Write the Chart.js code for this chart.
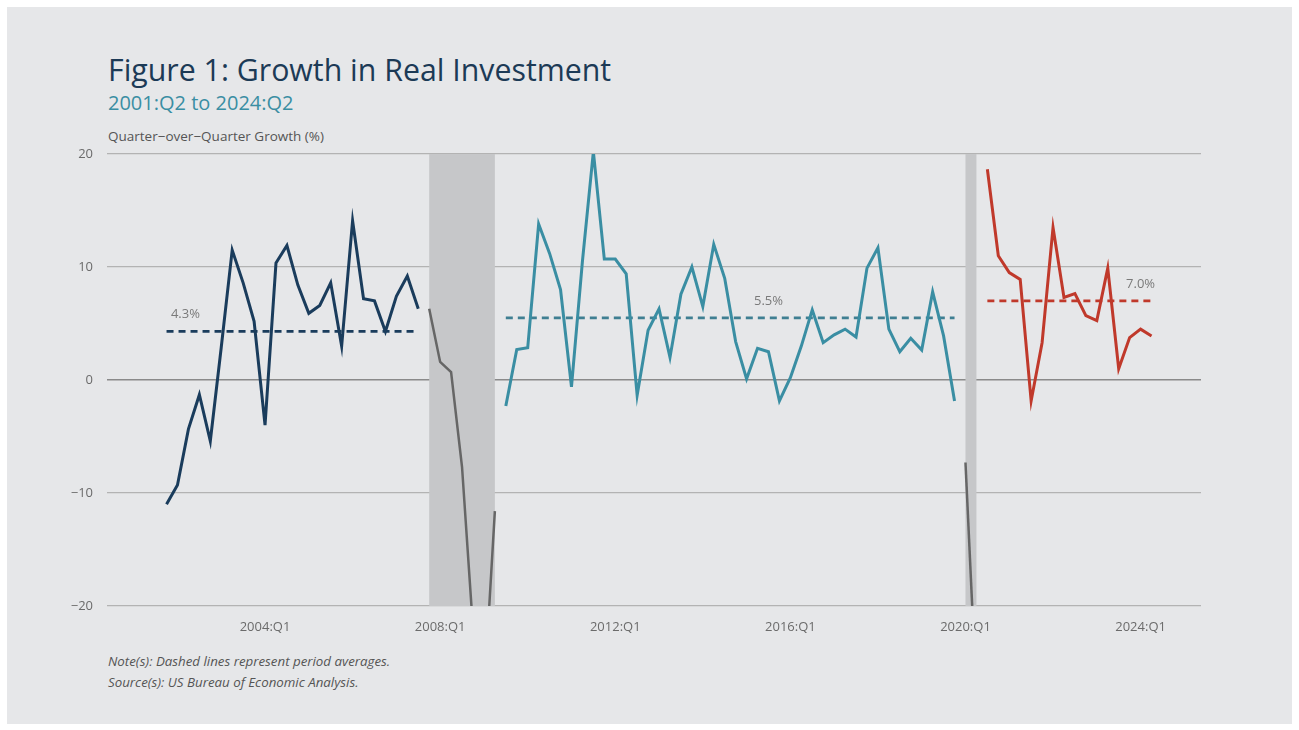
<!DOCTYPE html>
<html>
<head>
<meta charset="utf-8">
<title>Figure 1: Growth in Real Investment</title>
<script src="https://cdn.jsdelivr.net/npm/chart.js@4.4.1/dist/chart.umd.min.js"></script>
<style>
  html, body { margin: 0; padding: 0; background: #ffffff; }
  body { width: 1299px; height: 730px; position: relative; overflow: hidden; font-family: "Open Sans", sans-serif; }
  #panel { position: absolute; left: 7px; top: 7px; width: 1285px; height: 717px; background: #e6e7e9; }
  .txt { position: absolute; left: 108px; white-space: nowrap; line-height: 1; }
  #title { top: 55px; font-size: 30.3px; color: #1c3a56; }
  #subtitle { top: 93px; font-size: 20px; color: #3a8ea3; }
  #ytitle { top: 129.5px; font-size: 13.5px; color: #555555; }
  .note { font-size: 13.3px; font-style: italic; color: #555555; }
  #note1 { top: 655px; }
  #note2 { top: 675.5px; }
  #wrap { position: absolute; left: 0; top: 0; width: 1299px; height: 730px; }
</style>
</head>
<body>
<div id="panel"></div>
<div class="txt" id="title">Figure 1: Growth in Real Investment</div>
<div class="txt" id="subtitle">2001:Q2 to 2024:Q2</div>
<div class="txt" id="ytitle">Quarter−over−Quarter Growth (%)</div>
<div class="txt note" id="note1">Note(s): Dashed lines represent period averages.</div>
<div class="txt note" id="note2">Source(s): US Bureau of Economic Analysis.</div>
<div id="wrap"><canvas id="investChart"></canvas></div>

<script>
// quarter-over-quarter growth of real investment, annualized (%)
const expansion1Start = '2001:Q4';
const expansion1 = [-11.0, -9.3, -4.35, -1.3, -5.4, 2.9, 11.5, 8.6, 5.2, -4.0, 10.35, 11.9,
                    8.4, 5.9, 6.6, 8.6, 3.0, 14.1, 7.2, 7.0, 4.3, 7.4, 9.2, 6.3];

const recession1Start = '2007:Q4';
const recession1 = [6.3, 1.6, 0.7, -7.7, -22.0, -28.0, -11.6];

const expansion2Start = '2009:Q3';
const expansion2 = [-2.3, 2.7, 2.85, 13.8, 11.2, 8.0, -0.6, 10.5, 20.2, 10.7, 10.7, 9.4,
                    -1.35, 4.4, 6.3, 2.0, 7.6, 10.0, 6.5, 12.0, 9.0, 3.4, 0.1, 2.8,
                    2.5, -1.85, 0.2, 3.0, 6.2, 3.3, 4.0, 4.5, 3.8, 9.9, 11.7, 4.5,
                    2.5, 3.7, 2.65, 7.8, 3.9, -1.85];

const recession2Start = '2020:Q1';
const recession2 = [-7.3, -28.0];

const expansion3Start = '2020:Q3';
const expansion3 = [18.65, 11.0, 9.5, 8.9, -1.85, 3.3, 13.5, 7.3, 7.65, 5.7, 5.25, 9.9,
                    1.0, 3.75, 4.5, 3.9];

// period averages
const periodAverages = [4.3, 5.5, 7.0];
const averageLabels = ['4.3%', '5.5%', '7.0%'];

// shaded recessions (first and last quarter)
const recessionBands = [['2007:Q4', '2009:Q2'], ['2020:Q1', '2020:Q2']];

const xTickLabels = ['2004:Q1', '2008:Q1', '2012:Q1', '2016:Q1', '2020:Q1', '2024:Q1'];
const yTickValues = [-20, -10, 0, 10, 20];

const NAVY = '#1a3c5c';
const TEAL = '#3a8ea3';
const RED = '#c0392b';
const GREY = '#666666';

function quarterValue(label) {
  const [y, q] = label.split(':Q');
  return Number(y) + (Number(q) - 1) / 4;
}

function toPoints(start, values) {
  const x0 = quarterValue(start);
  return values.map((v, i) => ({ x: x0 + i / 4, y: v }));
}

function avgLine(start, values, avg) {
  const x0 = quarterValue(start);
  return [{ x: x0, y: avg }, { x: x0 + (values.length - 1) / 4, y: avg }];
}

function series(data, color, width) {
  return { data, borderColor: color, borderWidth: width, pointRadius: 0, tension: 0, clip: 0, fill: false };
}

function dashed(data, color) {
  return { data, borderColor: color, borderWidth: 2.6, borderDash: [7, 5], pointRadius: 0, tension: 0, clip: 0, fill: false };
}

const recessionShading = {
  id: 'recessionShading',
  beforeDatasetsDraw(chart) {
    const { ctx, chartArea, scales } = chart;
    ctx.save();
    ctx.fillStyle = '#c6c7c9';
    recessionBands.forEach(([a, b]) => {
      const x1 = scales.x.getPixelForValue(quarterValue(a));
      const x2 = scales.x.getPixelForValue(quarterValue(b));
      ctx.fillRect(x1, chartArea.top, x2 - x1, chartArea.bottom - chartArea.top);
    });
    ctx.restore();
  }
};

// average value labels above each dashed line
const averageText = {
  id: 'averageText',
  afterDatasetsDraw(chart) {
    const { ctx, scales } = chart;
    const anchors = [[quarterValue(expansion1Start) + 0.1, 'left'], [quarterValue('2015:Q3'), 'center'], [quarterValue('2024:Q1'), 'center']];
    ctx.save();
    ctx.font = '13px "Open Sans"';
    ctx.fillStyle = '#7a7a7a';
    ctx.textBaseline = 'alphabetic';
    periodAverages.forEach((avg, i) => {
      ctx.textAlign = anchors[i][1];
      ctx.fillText(averageLabels[i], scales.x.getPixelForValue(anchors[i][0]), scales.y.getPixelForValue(avg) - 13);
    });
    ctx.restore();
  }
};

const ctx = document.getElementById('investChart').getContext('2d');
new Chart(ctx, {
  type: 'line',
  data: {
    datasets: [
      series(toPoints(recession1Start, recession1), GREY, 2.5),
      series(toPoints(recession2Start, recession2), GREY, 2.5),
      series(toPoints(expansion1Start, expansion1), NAVY, 3),
      series(toPoints(expansion2Start, expansion2), TEAL, 3),
      series(toPoints(expansion3Start, expansion3), RED, 3),
      dashed(avgLine(expansion1Start, expansion1, periodAverages[0]), NAVY),
      dashed(avgLine(expansion2Start, expansion2, periodAverages[1]), '#3f7f92'),
      dashed(avgLine(expansion3Start, expansion3, periodAverages[2]), RED)
    ]
  },
  options: {
    responsive: true,
    maintainAspectRatio: false,
    animation: false,
    layout: { padding: { left: 67, top: 154, right: 98, bottom: 94 } },
    plugins: {
      legend: { display: false },
      tooltip: { enabled: false }
    },
    scales: {
      x: {
        type: 'linear',
        min: 2000.39,
        max: 2025.38,
        afterBuildTicks: (scale) => {
          scale.ticks = xTickLabels.map(l => ({ value: quarterValue(l) }));
        },
        afterFit: (scale) => { scale.height = 30; },
        grid: { display: false, drawTicks: false },
        border: { display: false },
        ticks: {
          padding: 13,
          color: '#6b6b6b',
          font: { family: 'Open Sans', size: 13 },
          maxRotation: 0,
          callback: (v) => xTickLabels.find(l => Math.abs(quarterValue(l) - v) < 1e-6) || ''
        }
      },
      y: {
        min: -20,
        max: 20,
        afterBuildTicks: (scale) => {
          scale.ticks = yTickValues.map(v => ({ value: v }));
        },
        afterFit: (scale) => { scale.width = 40; },
        grid: {
          drawTicks: false,
          color: (c) => c.tick && c.tick.value === 0 ? '#8a8a8a' : '#b3b3b3',
          lineWidth: (c) => c.tick && c.tick.value === 0 ? 1.6 : 1.3
        },
        border: { display: false },
        ticks: {
          padding: 14,
          color: '#6b6b6b',
          font: { family: 'Open Sans', size: 13 },
          callback: (v) => v < 0 ? '−' + Math.abs(v) : String(v)
        }
      }
    }
  },
  plugins: [recessionShading, averageText]
});
</script>
</body>
</html>
